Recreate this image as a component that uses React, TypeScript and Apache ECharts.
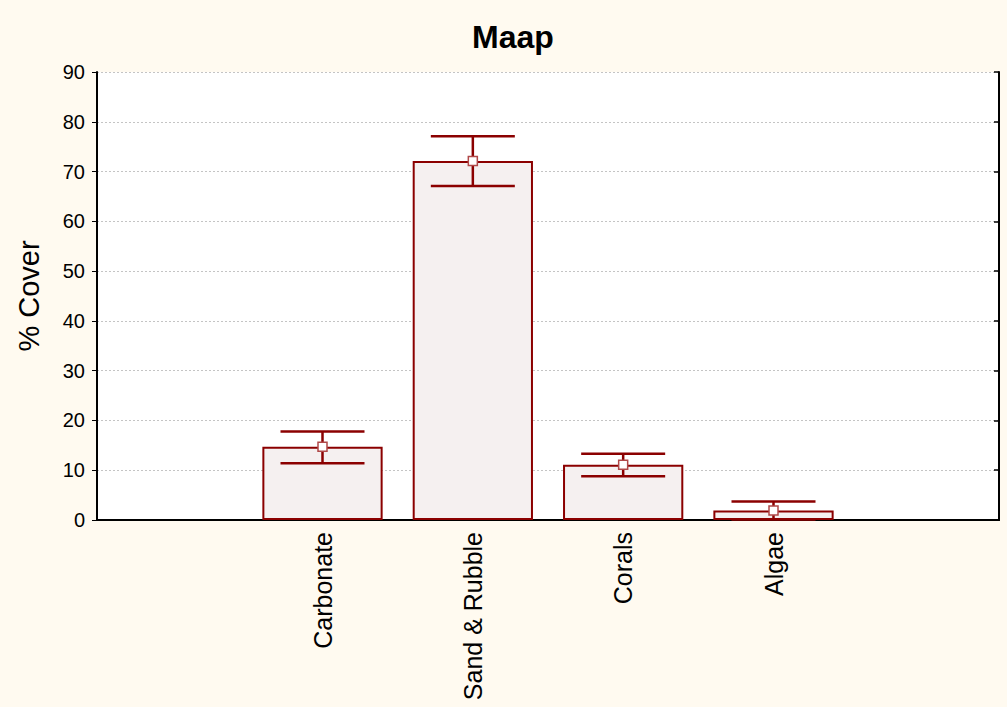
import React, { useEffect, useRef } from "react";
import * as echarts from "echarts";

const categories = ["", "Carbonate", "Sand & Rubble", "Corals", "Algae", ""];
const means: (number | string)[] = ["-", 14.7, 72.1, 11.1, 1.9, "-"];
const errLow = [null, 11.4, 67.1, 8.8, 0.1, null];
const errHigh = [null, 17.8, 77.1, 13.3, 3.7, null];
const yTicks = { min: 0, max: 90, interval: 10 };

export default function App() {
  const ref = useRef<HTMLDivElement>(null);
  useEffect(() => {
    document.body.style.margin = "0";
    const chart = echarts.init(ref.current!, null, { renderer: "svg" });
    const errData: any[] = [];
    const markerData: any[] = [];
    categories.forEach((c, i) => {
      if (errLow[i] !== null) {
        errData.push([i, errLow[i], errHigh[i]]);
        markerData.push([i, means[i]]);
      }
    });
    const red = "#8b0000";
    const font = "Liberation Sans, Arial";
    chart.setOption({
      animation: false,
      backgroundColor: "#fffaf0",
      title: {
        text: "Maap",
        left: 467,
        top: 16,
        textStyle: { fontFamily: font, fontWeight: "bold", fontSize: 32, color: "#000" },
      },
      grid: { left: 97, right: 8, top: 72, bottom: 187, backgroundColor: "#fff", show: true, borderWidth: 0 },
      xAxis: [
        {
          type: "category",
          data: categories,
          position: "bottom",
          axisLine: { lineStyle: { color: "#000", width: 2 } },
          axisTick: { alignWithLabel: true, inside: true, length: 5, lineStyle: { color: "#000", width: 1.5 } },
          axisLabel: { rotate: 90, fontFamily: font, fontSize: 25, color: "#000", margin: 12, interval: 0 },
          splitLine: { show: false },
        },
        {
          type: "category",
          data: categories,
          position: "top",
          axisLine: { lineStyle: { color: "#000", width: 2 } },
          axisTick: { alignWithLabel: true, inside: true, length: 5, lineStyle: { color: "#000", width: 1.5 } },
          axisLabel: { show: false },
        },
      ],
      yAxis: [
        {
          type: "value",
          min: yTicks.min,
          max: yTicks.max,
          interval: yTicks.interval,
          position: "left",
          name: "% Cover",
          nameLocation: "middle",
          nameGap: 54,
          nameTextStyle: { fontFamily: font, fontSize: 29, color: "#000" },
          axisLine: { show: true, lineStyle: { color: "#000", width: 2 } },
          axisTick: { show: true, length: 5, lineStyle: { color: "#000", width: 1 } },
          axisLabel: { fontFamily: font, fontSize: 20, color: "#000", margin: 12 },
          splitLine: { show: true, lineStyle: { color: "#c4c4c4", type: [2, 2], width: 1 } },
        },
        {
          type: "value",
          min: yTicks.min,
          max: yTicks.max,
          interval: yTicks.interval,
          position: "right",
          axisLine: { show: true, lineStyle: { color: "#000", width: 2 } },
          axisTick: { show: true, inside: true, length: 5, lineStyle: { color: "#000", width: 1.5 } },
          axisLabel: { show: false },
          splitLine: { show: false },
        },
      ],
      series: [
        {
          type: "bar",
          data: means,
          barWidth: "80%",
          itemStyle: { color: "#f5f0f0", borderColor: red, borderWidth: 2 },
          z: 2,
        },
        {
          type: "custom",
          data: errData,
          z: 3,
          renderItem: (params: any, api: any) => {
            const i = api.value(0);
            const lo = api.coord([i, api.value(1)]);
            const hi = api.coord([i, api.value(2)]);
            const hw = 42;
            const style = { stroke: red, lineWidth: 2.5 };
            return {
              type: "group",
              children: [
                { type: "line", shape: { x1: lo[0], y1: lo[1], x2: hi[0], y2: hi[1] }, style },
                { type: "line", shape: { x1: lo[0] - hw, y1: lo[1], x2: lo[0] + hw, y2: lo[1] }, style },
                { type: "line", shape: { x1: hi[0] - hw, y1: hi[1], x2: hi[0] + hw, y2: hi[1] }, style },
              ],
            };
          },
        },
        {
          type: "scatter",
          data: markerData,
          symbol: "rect",
          symbolSize: 9,
          z: 4,
          itemStyle: { color: "#fff", borderColor: "#b04848", borderWidth: 1.5, opacity: 1 },
        },
      ],
    });
    return () => chart.dispose();
  }, []);
  return <div ref={ref} style={{ width: 1007, height: 707 }} />;
}
